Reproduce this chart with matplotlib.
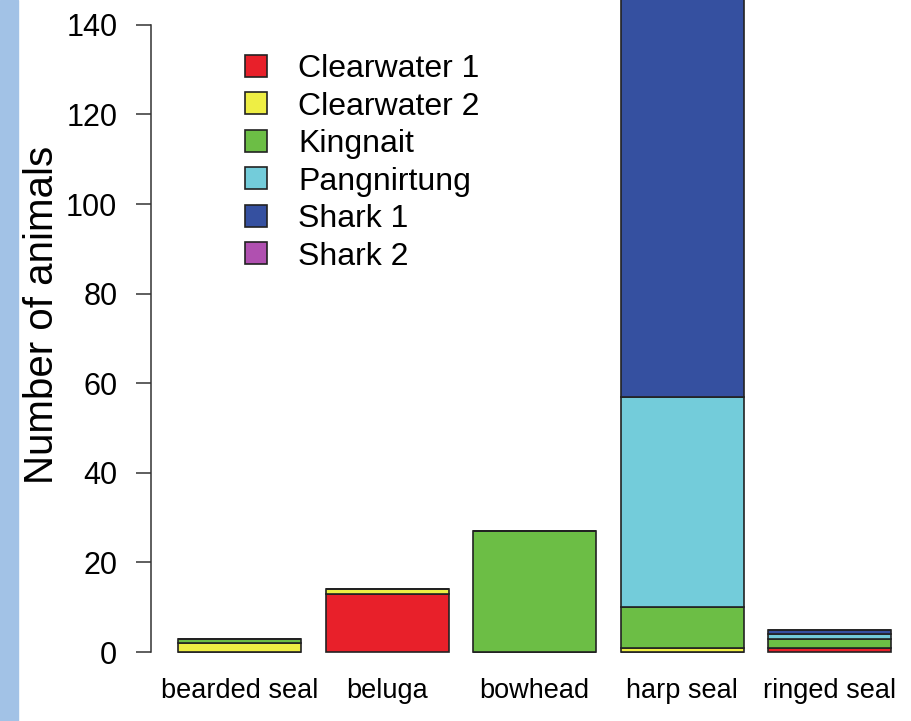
import matplotlib.pyplot as plt
import numpy as np

# =============================================================================
# DATA
# =============================================================================

SPECIES = ["bearded seal", "beluga", "bowhead", "harp seal", "ringed seal"]
SITES = ["Clearwater 1", "Clearwater 2", "Kingnait", "Pangnirtung", "Shark 1", "Shark 2"]

clearwater1 = [0, 13, 0, 0, 1]
clearwater2 = [2, 1, 0, 1, 0]
kingnait = [1, 0, 27, 9, 2]
pangnirtung = [0, 0, 0, 47, 1]
shark1 = [0, 0, 0, 100, 1]
shark2 = [0, 0, 0, 0, 0]

COLORS = ["#E8202A", "#EEEE44", "#6CBE45", "#73CCDA", "#3550A0", "#B050B0"]

# =============================================================================
# PLOT
# =============================================================================

plt.rcParams["font.family"] = ["Liberation Sans", "DejaVu Sans"]

W, H = 911, 721
fig = plt.figure(figsize=(W / 100, H / 100), dpi=100)

# light blue strip at the left edge
fig.patches.append(plt.Rectangle((0, 0), 18 / W, 1, transform=fig.transFigure,
                                 color="#A2C2E6", zorder=0))

x_axis_px = 150.7
ax = fig.add_axes([x_axis_px / W, 0, 1 - x_axis_px / W, 1])
px_per_x = 123.0
x_left = 0.2 - (178 - x_axis_px) / px_per_x
ax.set_xlim(x_left, x_left + (W - x_axis_px) / px_per_x)
px_per_y = 4.48
zero_px = 652
ax.set_ylim(-(H - zero_px) / px_per_y, zero_px / px_per_y)

series = [clearwater1, clearwater2, kingnait, pangnirtung, shark1, shark2]
pos = 0.2 + np.arange(len(SPECIES)) * 1.2 + 0.5
bottom = np.zeros(len(SPECIES))
for name, vals, col in zip(SITES, series, COLORS):
    vals = np.array(vals, dtype=float)
    ax.bar(pos, vals, width=1.0, bottom=bottom, color=col, edgecolor="#222222",
           linewidth=1.2, label=name)
    bottom += vals

for sp in ["top", "right", "bottom"]:
    ax.spines[sp].set_visible(False)
ax.spines["left"].set_bounds(0, 140)
ax.spines["left"].set_color("#333333")
ax.spines["left"].set_linewidth(1.1)
ax.set_yticks(np.arange(0, 141, 20))
ax.tick_params(axis="y", length=11, width=1.1, color="#333333", pad=13,
               labelsize=22)
ax.set_xticks([])

for p, s in zip(pos, SPECIES):
    ax.text(p, -(691 - zero_px) / px_per_y, s, ha="center", va="center",
            fontsize=19.5)

fig.text(42 / W, 1 - 315 / H, "Number of animals", rotation=90, ha="center",
         va="center", fontsize=29)

ax.legend(loc="upper left", bbox_to_anchor=(245 / W, 1 - 54 / H),
          bbox_transform=fig.transFigure, frameon=False, fontsize=23,
          handlelength=0.69, handleheight=0.69, handletextpad=0.97,
          labelspacing=0.235, borderaxespad=0, borderpad=0)

fig.savefig("out.png", dpi=100)
